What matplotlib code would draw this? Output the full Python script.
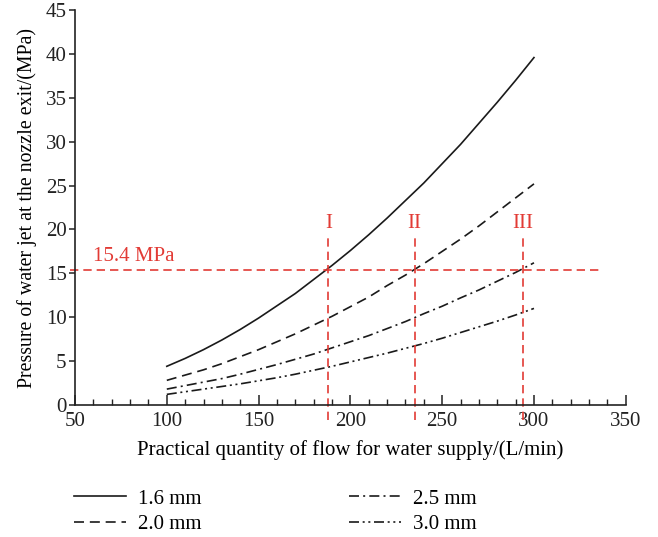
import matplotlib
matplotlib.use('Agg')
from matplotlib import pyplot as plt
from matplotlib.ticker import MultipleLocator

# flow (L/min) and pressure (MPa)
flow = [100, 110, 120, 130, 140, 150, 160, 170, 180, 190, 200,
        210, 220, 230, 240, 250, 260, 270, 280, 290, 300]
p_16 = [4.4, 5.3, 6.3, 7.4, 8.6, 9.9, 11.3, 12.7, 14.3, 15.9, 17.6,
        19.4, 21.3, 23.3, 25.3, 27.5, 29.7, 32.1, 34.5, 37.0, 39.6]
p_20 = [2.8, 3.4, 4.0, 4.7, 5.5, 6.3, 7.2, 8.1, 9.1, 10.1, 11.2,
        12.3, 13.6, 14.8, 16.1, 17.5, 18.9, 20.4, 22.0, 23.6, 25.2]
p_25 = [1.8, 2.2, 2.6, 3.0, 3.5, 4.05, 4.6, 5.2, 5.8, 6.5, 7.2,
        7.9, 8.7, 9.5, 10.4, 11.25, 12.2, 13.1, 14.1, 15.1, 16.2]
p_30 = [1.2, 1.5, 1.8, 2.1, 2.4, 2.75, 3.1, 3.5, 3.95, 4.4, 4.9,
        5.4, 5.9, 6.45, 7.0, 7.6, 8.25, 8.9, 9.55, 10.25, 11.0]

limit = 15.4
marks = [188, 235, 294]
mark_labels = ['I', 'II', 'III']

red = '#e23b35'
fs = 15

plt.rcParams['font.family'] = ['Liberation Serif', 'DejaVu Serif']

fig = plt.figure(figsize=(6.58, 5.37), dpi=100)
ax = fig.add_axes([0.114, 0.246, 0.837, 0.735])

k = '#1a1a1a'
lw = 1.2
l1, = ax.plot(flow, p_16, color=k, lw=lw, ls='-', label='1.6 mm')
l2, = ax.plot(flow, p_20, color=k, lw=lw, ls=(0, (6, 3.5)), label='2.0 mm')
l3, = ax.plot(flow, p_25, color=k, lw=lw, ls=(0, (6, 2.5, 1.2, 2.5)), label='2.5 mm')
l4, = ax.plot(flow, p_30, color=k, lw=lw, ls=(0, (6, 2.2, 1.2, 2.2, 1.2, 2.2)), label='3.0 mm')

ax.plot([47, 337], [limit, limit], color=red, lw=1.2, ls=(0, (5, 3)), clip_on=False)
ax.text(60, 16.4, f'{limit} MPa', color=red, fontsize=fs)
for x, lab in zip(marks, mark_labels):
    ax.plot([x, x], [-1.7, 19.2], color=red, lw=1.2, ls=(0, (5, 3)), clip_on=False)
    ax.text(x, 19.6, lab, color=red, fontsize=fs, ha='center', va='bottom')

ax.set_xlim(50, 350)
ax.set_ylim(0, 45)
ax.xaxis.set_major_locator(MultipleLocator(50))
ax.xaxis.set_minor_locator(MultipleLocator(10))
ax.yaxis.set_major_locator(MultipleLocator(5))
ax.spines['top'].set_visible(False)
ax.spines['right'].set_visible(False)
for s in ('left', 'bottom'):
    ax.spines[s].set_linewidth(1.2)
    ax.spines[s].set_color('#222222')
ax.tick_params(axis='x', which='both', direction='in', colors='#222222', labelsize=fs)
ax.tick_params(axis='x', which='major', length=7, width=1.1, pad=5)
ax.tick_params(axis='x', which='minor', length=4, width=1.0)
ax.tick_params(axis='y', direction='out', length=4, width=1.1, colors='#222222', labelsize=fs, pad=2)

ax.set_xlabel('Practical quantity of flow for water supply/(L/min)', fontsize=fs, labelpad=7)
ax.set_ylabel('Pressure of water jet at the nozzle exit/(MPa)', fontsize=14.3, labelpad=6)

fig.legend(handles=[l1, l2, l3, l4], ncol=2, loc='lower left',
           bbox_to_anchor=(0.084, -0.03), frameon=False, fontsize=fs,
           handlelength=2.5, handletextpad=0.55, columnspacing=7.1,
           labelspacing=0.3)

fig.savefig('out.png', dpi=100)
